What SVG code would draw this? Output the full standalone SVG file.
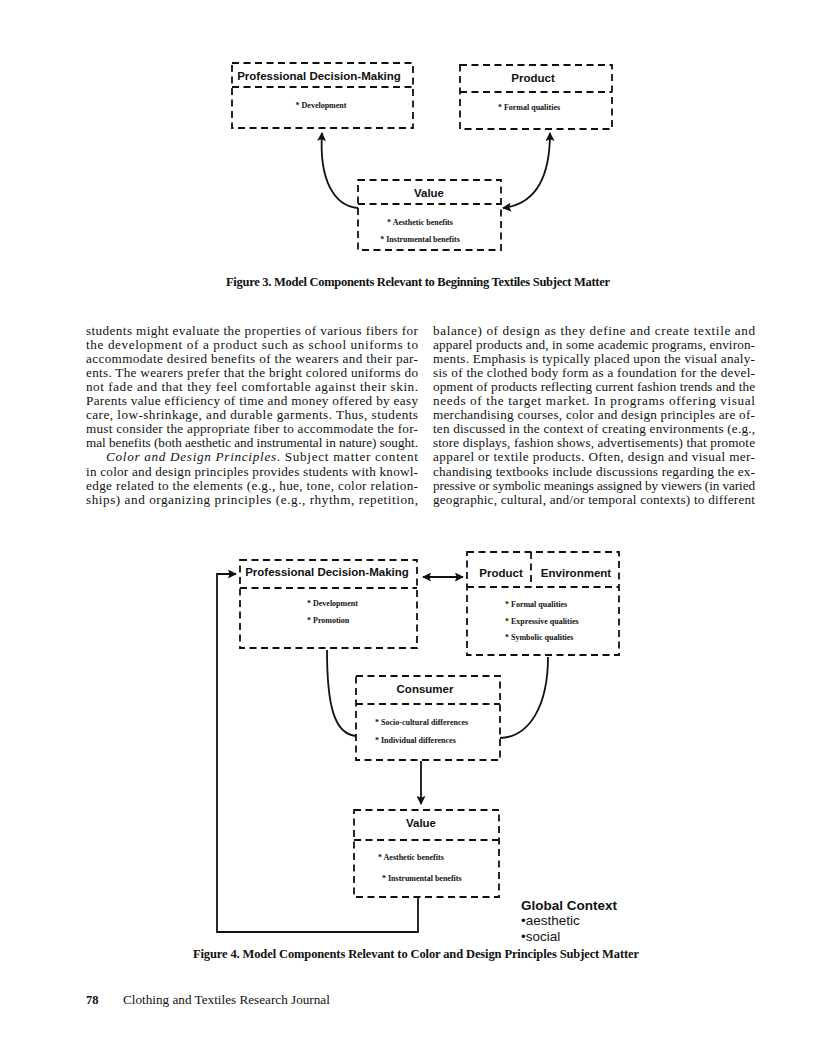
<svg xmlns="http://www.w3.org/2000/svg" width="825" height="1061" viewBox="0 0 825 1061">
<defs>
<style>
.bx{fill:none;stroke:#111;stroke-width:1.8;stroke-dasharray:7 4.5}
.cn{fill:none;stroke:#111;stroke-width:1.8}
.tt{font-family:"Liberation Sans",Arial,sans-serif;font-weight:bold;font-size:11.5px;fill:#111}
.it{font-family:"Liberation Serif","Times New Roman",serif;font-weight:bold;font-size:8px;fill:#111}
.bd{font-family:"Liberation Serif","Times New Roman",serif;font-size:13.2px;fill:#111}
.cap{font-family:"Liberation Serif","Times New Roman",serif;font-weight:bold;font-size:12.5px;fill:#111}
.gc{font-family:"Liberation Sans",Arial,sans-serif;font-size:13.5px;fill:#111}
</style>
<marker id="ah" viewBox="0 0 10 10" refX="9" refY="5" markerWidth="10" markerHeight="9" markerUnits="userSpaceOnUse" orient="auto-start-reverse">
<path d="M0,0 L10,5 L0,10 L2,5 z" fill="#111"/>
</marker>
</defs>
<rect width="825" height="1061" fill="#fff"/>

<!-- Figure 3 -->
<g id="f3-pdm">
<rect class="bx" x="232" y="63" width="181" height="65"/>
<line class="bx" x1="232" y1="87" x2="413" y2="87"/>
<text class="tt" x="319" y="80" text-anchor="middle" font-size="11">Professional Decision-Making</text>
<text class="it" x="321" y="108" text-anchor="middle">* Development</text>
</g>
<g id="f3-product">
<rect class="bx" x="460" y="65" width="152" height="64"/>
<line class="bx" x1="460" y1="92" x2="612" y2="92"/>
<text class="tt" x="533" y="82" text-anchor="middle">Product</text>
<text class="it" x="529" y="110" text-anchor="middle">* Formal qualities</text>
</g>
<g id="f3-value">
<rect class="bx" x="358" y="180" width="143" height="70"/>
<line class="bx" x1="358" y1="204" x2="501" y2="204"/>
<text class="tt" x="429" y="197" text-anchor="middle">Value</text>
<text class="it" x="420" y="225" text-anchor="middle">* Aesthetic benefits</text>
<text class="it" x="420" y="242" text-anchor="middle">* Instrumental benefits</text>
</g>
<g id="f3-connectors">
<path class="cn" d="M358,208 C334,206 319,180 322,133" marker-end="url(#ah)"/>
<path class="cn" d="M550,133 C550,175 537,204 503,208" marker-start="url(#ah)" marker-end="url(#ah)"/>
</g>
<text class="cap" x="226" y="286" textLength="384" lengthAdjust="spacing">Figure 3.  Model Components Relevant to Beginning Textiles Subject Matter</text>

<!-- Body text -->
<g id="body-left" class="bd">
<text x="86" y="334.5" textLength="332" lengthAdjust="spacing">students might evaluate the properties of various fibers for</text>
<text x="86" y="348.6" textLength="332" lengthAdjust="spacing">the development of a product such as school uniforms to</text>
<text x="86" y="362.7" textLength="332" lengthAdjust="spacing">accommodate desired benefits of the wearers and their par-</text>
<text x="86" y="376.8" textLength="332" lengthAdjust="spacing">ents.  The wearers prefer that the bright colored uniforms do</text>
<text x="86" y="390.9" textLength="332" lengthAdjust="spacing">not fade and that they feel comfortable against their skin.</text>
<text x="86" y="405" textLength="332" lengthAdjust="spacing">Parents value efficiency of time and money offered by easy</text>
<text x="86" y="419.1" textLength="332" lengthAdjust="spacing">care, low-shrinkage, and durable garments.  Thus, students</text>
<text x="86" y="433.2" textLength="332" lengthAdjust="spacing">must consider the appropriate fiber to accommodate the for-</text>
<text x="86" y="447.3" textLength="332" lengthAdjust="spacing">mal benefits (both aesthetic and instrumental in nature) sought.</text>
<text x="106" y="461.4" textLength="312" lengthAdjust="spacing"><tspan font-style="italic">Color and Design Principles</tspan>.  Subject matter content</text>
<text x="86" y="475.5" textLength="332" lengthAdjust="spacing">in color and design principles provides students with knowl-</text>
<text x="86" y="489.6" textLength="332" lengthAdjust="spacing">edge related to the elements (e.g., hue, tone, color relation-</text>
<text x="86" y="503.7" textLength="332" lengthAdjust="spacing">ships) and organizing principles (e.g., rhythm, repetition,</text>
</g>
<g id="body-right" class="bd">
<text x="433" y="334.5" textLength="322" lengthAdjust="spacing">balance) of design as they define and create textile and</text>
<text x="433" y="348.6" textLength="322" lengthAdjust="spacing">apparel products and, in some academic programs, environ-</text>
<text x="433" y="362.7" textLength="322" lengthAdjust="spacing">ments.  Emphasis is typically placed upon the visual analy-</text>
<text x="433" y="376.8" textLength="322" lengthAdjust="spacing">sis of the clothed body form as a foundation for the devel-</text>
<text x="433" y="390.9" textLength="322" lengthAdjust="spacing">opment of products reflecting current fashion trends and the</text>
<text x="433" y="405" textLength="322" lengthAdjust="spacing">needs of the target market.  In programs offering visual</text>
<text x="433" y="419.1" textLength="322" lengthAdjust="spacing">merchandising courses, color and design principles are of-</text>
<text x="433" y="433.2" textLength="322" lengthAdjust="spacing">ten discussed in the context of creating environments (e.g.,</text>
<text x="433" y="447.3" textLength="322" lengthAdjust="spacing">store displays, fashion shows, advertisements) that promote</text>
<text x="433" y="461.4" textLength="322" lengthAdjust="spacing">apparel or textile products.  Often, design and visual mer-</text>
<text x="433" y="475.5" textLength="322" lengthAdjust="spacing">chandising textbooks include discussions regarding the ex-</text>
<text x="433" y="489.6" textLength="322" lengthAdjust="spacing">pressive or symbolic meanings assigned by viewers (in varied</text>
<text x="433" y="503.7" textLength="322" lengthAdjust="spacing">geographic, cultural, and/or temporal contexts) to different</text>
</g>

<!-- Figure 4 -->
<g id="f4-pdm">
<rect class="bx" x="240" y="560" width="177" height="88"/>
<line class="bx" x1="240" y1="588" x2="417" y2="588"/>
<text class="tt" x="327" y="576" text-anchor="middle" font-size="11">Professional Decision-Making</text>
<text class="it" x="307" y="606">* Development</text>
<text class="it" x="307" y="623">* Promotion</text>
</g>
<g id="f4-product-environment">
<rect class="bx" x="467" y="552" width="152" height="103"/>
<line class="bx" x1="467" y1="587" x2="619" y2="587"/>
<line class="bx" x1="531" y1="552" x2="531" y2="587"/>
<text class="tt" x="501" y="577" text-anchor="middle">Product</text>
<text class="tt" x="576" y="577" text-anchor="middle">Environment</text>
<text class="it" x="505" y="607">*  Formal qualities</text>
<text class="it" x="505" y="624">* Expressive qualities</text>
<text class="it" x="505" y="640">* Symbolic qualities</text>
</g>
<g id="f4-consumer">
<rect class="bx" x="356" y="676" width="144" height="84"/>
<line class="bx" x1="356" y1="704" x2="500" y2="704"/>
<text class="tt" x="425" y="693" text-anchor="middle">Consumer</text>
<text class="it" x="375" y="725">*  Socio-cultural differences</text>
<text class="it" x="375" y="743">* Individual differences</text>
</g>
<g id="f4-value">
<rect class="bx" x="354" y="810" width="145" height="87"/>
<line class="bx" x1="354" y1="840" x2="499" y2="840"/>
<text class="tt" x="421" y="827" text-anchor="middle">Value</text>
<text class="it" x="378" y="860">* Aesthetic benefits</text>
<text class="it" x="382" y="881">* Instrumental benefits</text>
</g>
<g id="f4-connectors">
<path class="cn" d="M423,577 L463,577" marker-start="url(#ah)" marker-end="url(#ah)"/>
<path class="cn" d="M327,650 C327,705 334,734 356,736"/>
<path class="cn" d="M548,657 C548,705 530,737 500,738"/>
<path class="cn" d="M421,761 L421,804" marker-end="url(#ah)"/>
<path class="cn" d="M418,897 L418,932 L217,932 L217,574 L236,574" marker-end="url(#ah)"/>
</g>
<g id="global-context">
<text class="gc" x="521" y="910" font-weight="bold" font-size="13">Global Context</text>
<text class="gc" x="521" y="925">•aesthetic</text>
<text class="gc" x="521" y="941">•social</text>
</g>
<text class="cap" x="193" y="958" textLength="446" lengthAdjust="spacing">Figure 4.  Model Components Relevant to Color and Design Principles Subject Matter</text>

<!-- Footer -->
<text class="cap" x="86" y="1004" font-size="13">78</text>
<text class="bd" x="123" y="1004" font-size="12.4">Clothing and Textiles Research Journal</text>
</svg>
